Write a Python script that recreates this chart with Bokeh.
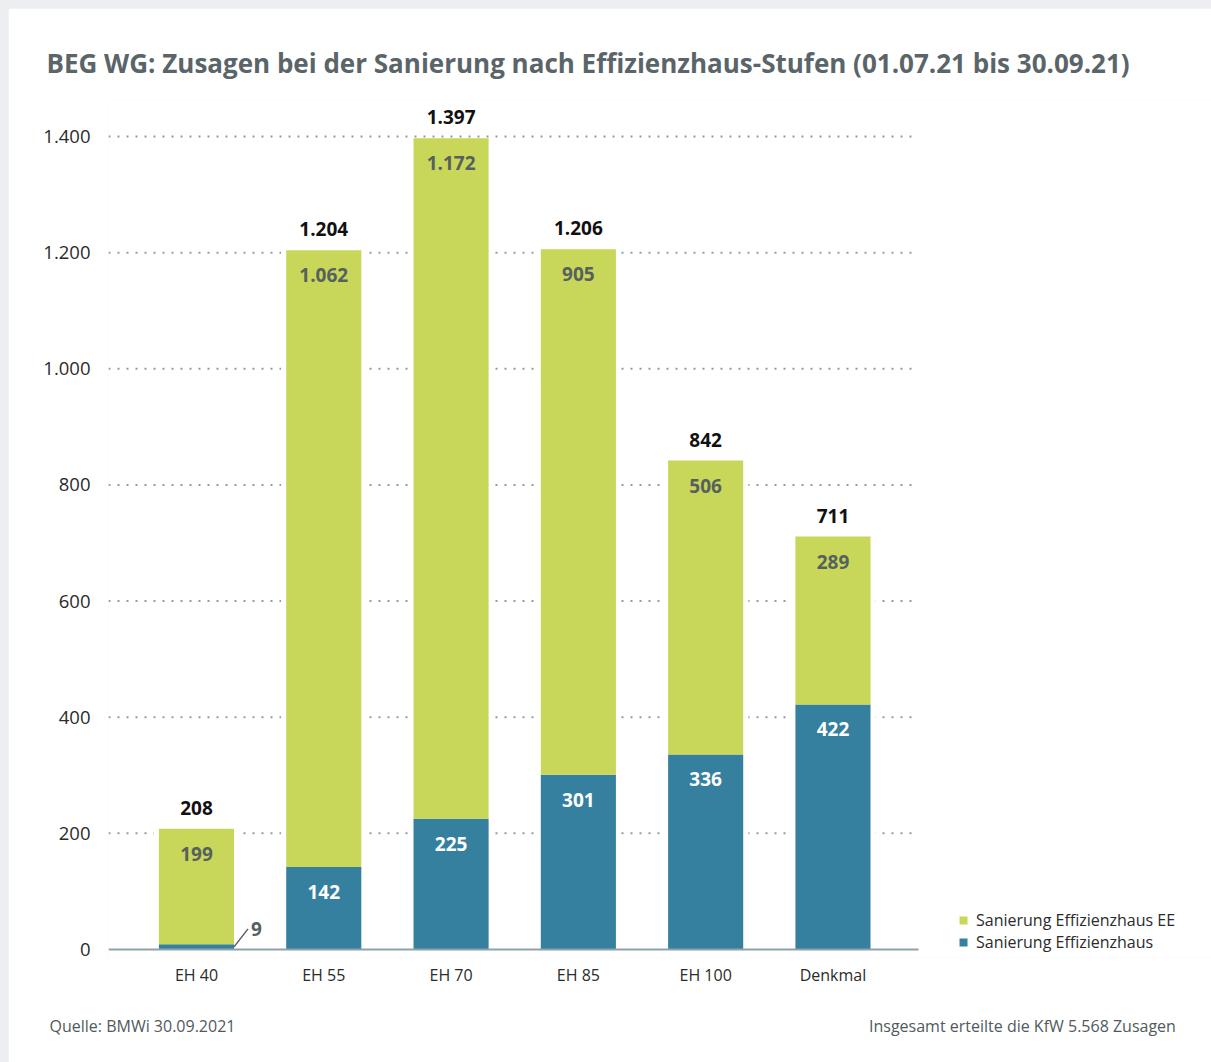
from bokeh.plotting import figure
from bokeh.layouts import column
from bokeh.models import (ColumnDataSource, Range1d, FixedTicker,
                          Legend, LegendItem, LinearAxis)
from bokeh.core.properties import value
from bokeh.embed import file_html
from bokeh.resources import INLINE

# ---- data ----
categories = ["EH 40", "EH 55", "EH 70", "EH 85", "EH 100", "Denkmal"]
effizienzhaus = [9, 142, 225, 301, 336, 422]
effizienzhaus_ee = [199, 1062, 1172, 905, 506, 289]
totals = [208, 1204, 1397, 1206, 842, 711]
y_ticks = [0, 200, 400, 600, 800, 1000, 1200, 1400]

title_text = "BEG WG: Zusagen bei der Sanierung nach Effizienzhaus-Stufen (01.07.21 bis 30.09.21)"
source_text = "Quelle: BMWi 30.09.2021"
note_text = "Insgesamt erteilte die KfW 5.568 Zusagen"
series_names = ["Sanierung Effizienzhaus EE", "Sanierung Effizienzhaus"]


def de(v):
    return f"{v:,}".replace(",", ".")


GREEN = "#c8d65a"
BLUE = "#35809f"
FONT = "Open Sans"
TXT = "#2b2b2b"

W, H = 1203, 1054
ML, MR, MT, MB = 100, 0, 92, 105
PX_PER_UNIT = 0.5807
BASE_PAD = 8            # px of plot area below the zero line
STEP = 127.3            # px per category
X0 = -0.691             # left edge of plot area (category units)
GRID_END = 5.672        # right end of the dotted grid
X1 = X0 + (W - ML - MR) / STEP
Y0 = -BASE_PAD / PX_PER_UNIT
Y1 = Y0 + (H - MT - MB) / PX_PER_UNIT

p = figure(width=W, height=H, output_backend="svg", toolbar_location=None,
           x_range=Range1d(X0, X1), y_range=Range1d(Y0, Y1),
           min_border_left=ML, min_border_right=MR, min_border_top=MT,
           min_border_bottom=MB)
p.outline_line_color = None
p.background_fill_color = "white"
p.border_fill_color = "white"
p.grid.grid_line_color = None

idx = list(range(len(categories)))
BW = 0.59
src = ColumnDataSource(dict(
    x=idx, blue=effizienzhaus, green=effizienzhaus_ee, total=totals,
    green_top=[b + g for b, g in zip(effizienzhaus, effizienzhaus_ee)],
    green_lbl=[de(v) for v in effizienzhaus_ee],
    total_lbl=[de(v) for v in totals],
))

# dotted grid lines (limited to the bar area)
grid_y = [t for t in y_ticks if t > 0]
p.segment(x0=[X0] * len(grid_y), x1=[GRID_END] * len(grid_y), y0=grid_y, y1=grid_y,
          line_color="#8d9ca6", line_width=2, line_dash=value("2 7"))

# white halo behind the bars
p.vbar(x="x", width=BW + 0.08, bottom=0, top="green_top", source=src,
       fill_color="white", line_color=None)

r_blue = p.vbar(x="x", width=BW, bottom=0, top="blue", source=src,
                fill_color=BLUE, line_color=None)
r_green = p.vbar(x="x", width=BW, bottom="blue", top="green_top", source=src,
                 fill_color=GREEN, line_color=None)

# base line
p.segment(x0=[X0], x1=[GRID_END], y0=[0], y1=[0], line_color="#8fa2ac", line_width=2)

# axes
p.yaxis.ticker = FixedTicker(ticks=y_ticks)
p.xaxis.ticker = FixedTicker(ticks=idx)
p.xaxis.major_label_overrides = {i: c for i, c in zip(idx, categories)}
p.yaxis.major_label_overrides = {t: de(t) for t in y_ticks}

# footer as a second axis below
foot_px = [142, 1022]
foot_pos = [(px - 196) / STEP for px in foot_px]
foot = LinearAxis(ticker=FixedTicker(ticks=foot_pos),
                  major_label_overrides={foot_pos[0]: source_text, foot_pos[1]: note_text})
p.add_layout(foot, "below")

for ax in (p.xaxis[0], p.yaxis[0], foot):
    ax.axis_line_color = None
    ax.major_tick_line_color = None
    ax.minor_tick_line_color = None
    ax.major_label_text_font = FONT
    ax.major_label_text_color = TXT
p.xaxis[0].major_label_text_font_size = "16px"
p.xaxis[0].major_label_standoff = 0
p.yaxis.major_label_text_font_size = "18.5px"
p.yaxis.major_label_standoff = 12
foot.major_label_text_font_size = "16px"
foot.major_label_text_color = "#505a5e"
foot.major_label_standoff = 20

# value labels
big = [i for i in idx if effizienzhaus[i] >= 40]
small = [i for i in idx if effizienzhaus[i] < 40]
src_big = ColumnDataSource(dict(
    x=[idx[i] for i in big], y=[effizienzhaus[i] for i in big],
    t=[de(effizienzhaus[i]) for i in big]))
p.text(x="x", y="y", text="t", source=src_big, text_font=value(FONT),
       text_font_style="bold", text_font_size="19px", text_color="white",
       text_align="center", text_baseline="middle", y_offset=25)

p.text(x="x", y="green_top", text="green_lbl", source=src, text_font=value(FONT),
       text_font_style="bold", text_font_size="19px", text_color="#56615f",
       text_align="center", text_baseline="middle", y_offset=25)

p.text(x="x", y="green_top", text="total_lbl", source=src, text_font=value(FONT),
       text_font_style="bold", text_font_size="19px", text_color="#111111",
       text_align="center", text_baseline="middle", y_offset=-21)

# leader for small value
src_small = ColumnDataSource(dict(
    x0=[idx[i] + BW / 2 for i in small],
    y0=[effizienzhaus[i] / 2 for i in small],
    x1=[idx[i] + BW / 2 + 0.11 for i in small],
    y1=[effizienzhaus[i] / 2 + 31 for i in small],
    t=[de(effizienzhaus[i]) for i in small]))
p.segment(x0="x0", y0="y0", x1="x1", y1="y1", source=src_small,
          line_color="#56615f", line_width=1.5)
p.text(x="x1", y="y1", text="t", source=src_small, text_font=value(FONT),
       text_font_style="bold", text_font_size="19px", text_color="#56615f",
       text_align="left", text_baseline="middle", x_offset=3)

# legend
legend = Legend(items=[LegendItem(label=series_names[0], renderers=[r_green]),
                       LegendItem(label=series_names[1], renderers=[r_blue])],
                location=(850, 4), label_text_font=FONT, label_text_font_size="16px",
                label_text_color=TXT, glyph_width=10, glyph_height=10,
                label_height=18, spacing=0, padding=0, margin=0,
                border_line_color=None, background_fill_alpha=0,
                label_standoff=8)
p.add_layout(legend)

# title
p.title.text = title_text
p.title.align = "left"
p.title.offset = -62
p.title.standoff = 40
p.title.text_font = FONT
p.title.text_font_style = "bold"
p.title.text_font_size = "26px"
p.title.text_color = "#5a6569"

layout = column(p, styles={"padding-left": "8px", "padding-top": "8px",
                           "background-color": "#eceef2"})

open("out.html", "w").write(file_html(layout, INLINE))
